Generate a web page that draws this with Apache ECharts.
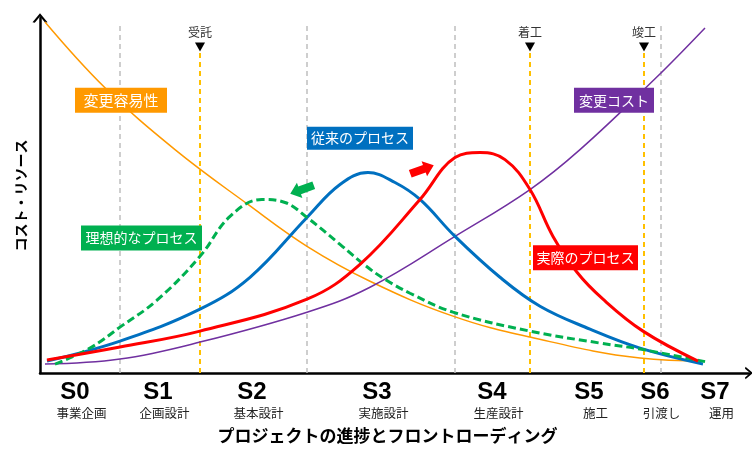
<!DOCTYPE html>
<html><head><meta charset="utf-8">
<script src="https://cdn.jsdelivr.net/npm/echarts@6/dist/echarts.min.js"></script>
<style>html,body{margin:0;padding:0;background:#fff}#c{width:752px;height:449px}</style>
</head><body><div id="c"></div>
<script>
// progress axis units (0..709) and resource units (0..356)
const stageX = [35, 118, 212, 337, 452, 549, 615, 675];
const stageNames = ['S0', 'S1', 'S2', 'S3', 'S4', 'S5', 'S6', 'S7'];
const stageSubs = ['事業企画', '企画設計', '基本設計', '実施設計', '生産設計', '施工', '引渡し', '運用'];
const phaseLinesX = [80, 267, 415, 621];
const milestoneX = [160, 490, 604];
const milestoneNames = ['受託', '着工', '竣工'];

const easeOfChange = [[5,352],[65,286],[135,224],[208,169],[267,127],[330,92],[413,57],[490,36],[600,15],[665,12]];
const costOfChange = [[5,9],[80,14],[160,31],[267,61],[330,86],[415,137],[490,184],[540,224],[614,294],[665,346]];
const conventional = [[7,12],[80,32],[160,64],[210,96],[267,156],[300,189],[328,201],[355,191],[380,174],[415,137],[460,96],[500,67],[550,44],[600,25],[663,9]];
const ideal = [[15,9],[50,25],[80,46],[117,73],[160,117],[190,157],[222,174],[245,171],[267,156],[300,129],[325,108],[345,94],[370,80],[413,61],[490,42],[560,30],[600,24],[667,11]];
const actual = [[7,13],[80,26],[160,42],[267,74],[320,109],[380,174],[415,216],[440,221],[465,214],[490,184],[513,137],[537,101],[563,74],[603,42],[658,12]];

const JP = "'Noto Sans CJK JP', sans-serif";
const chevron = 'path://M0,12 L10,0 L20,12 L17,12.8 L10,4.5 L3,12.8 Z';
const blockArrow = 'path://M0,3 L12,3 L12,0 L20,6 L12,12 L12,9 L0,9 Z';

function box(name, coord, size, color, fs) {
  return {
    name, coord, symbol: 'rect', symbolSize: size,
    itemStyle: { color },
    label: { show: true, position: 'inside', formatter: name, color: '#fff', fontSize: fs, fontFamily: JP }
  };
}

const SM = 0.4;
const chart = echarts.init(document.getElementById('c'), null, { renderer: 'canvas' });
chart.setOption({
  animation: false,
  backgroundColor: '#fff',
  grid: { left: 40, right: 3, top: 18, bottom: 75 },
  xAxis: {
    type: 'value', min: 0, max: 709,
    splitLine: { show: false },
    axisTick: { show: false },
    axisLine: { lineStyle: { color: '#000', width: 2.5 }, symbol: ['none', chevron], symbolSize: [14, 8] },
    axisLabel: {
      customValues: stageX,
      margin: 6,
      formatter: (v) => {
        const i = stageX.indexOf(v);
        return '{s|' + stageNames[i] + '}\n{d|' + stageSubs[i] + '}';
      },
      rich: {
        s: { fontSize: 24, fontWeight: 'bold', fontFamily: "'Liberation Sans', Arial, sans-serif", color: '#000', lineHeight: 26 },
        d: { fontSize: 12.5, fontFamily: JP, color: '#222', lineHeight: 17, padding: [0, 0, 0, 13] }
      }
    },
    name: 'プロジェクトの進捗とフロントローディング',
    nameLocation: 'middle', nameGap: 54,
    nameTextStyle: { fontSize: 17, fontWeight: 'bold', fontFamily: JP, color: '#000', padding: [0, 14, 0, 0] }
  },
  yAxis: {
    type: 'value', min: 0, max: 356,
    splitLine: { show: false },
    axisTick: { show: false },
    axisLabel: { show: false },
    axisLine: { show: true, lineStyle: { color: '#000', width: 2.5 }, symbol: ['none', chevron], symbolSize: [15, 12] },
    name: 'コスト・リソース',
    nameLocation: 'middle', nameGap: 12,
    nameTextStyle: { fontSize: 14, fontWeight: 'bold', fontFamily: JP, color: '#000' }
  },
  series: [
    {
      name: 'guides', type: 'line', data: [], z: 1,
      markLine: {
        silent: true, symbol: 'none', z: 1, label: { show: false },
        data: [
          ...phaseLinesX.map(x => [{ coord: [x, 0], lineStyle: { color: '#BFBFBF', width: 1.5, type: [5, 4] } }, { coord: [x, 350] }]),
          ...milestoneX.map(x => [{ coord: [x, 0], lineStyle: { color: '#FFC000', width: 2, type: [5, 4] } }, { coord: [x, 322] }])
        ]
      },
      markPoint: {
        silent: true, z: 6,
        data: milestoneX.map((x, i) => ({
          coord: [x, 327], symbol: 'triangle', symbolRotate: 180, symbolSize: [10, 9],
          itemStyle: { color: '#000' },
          label: { show: true, position: 'top', distance: 4, formatter: milestoneNames[i], color: '#333', fontSize: 12, fontFamily: JP }
        }))
      }
    },
    { name: '変更容易性', type: 'line', data: easeOfChange, smooth: SM, symbol: 'none', z: 2, lineStyle: { color: '#FF9900', width: 1.5 } },
    { name: '変更コスト', type: 'line', data: costOfChange, smooth: SM, symbol: 'none', z: 2, lineStyle: { color: '#7030A0', width: 1.5 } },
    { name: '従来のプロセス', type: 'line', data: conventional, smooth: SM, symbol: 'none', z: 3, lineStyle: { color: '#0070C0', width: 3 } },
    { name: '理想的なプロセス', type: 'line', data: ideal, smooth: SM, symbol: 'none', z: 3, lineStyle: { color: '#00B050', width: 3, type: [8, 4] } },
    { name: '実際のプロセス', type: 'line', data: actual, smooth: SM, symbol: 'none', z: 4, lineStyle: { color: '#FF0000', width: 3 } },
    {
      name: 'annotations', type: 'line', data: [], z: 10,
      markPoint: {
        silent: true, z: 10,
        data: [
          box('変更容易性', [81, 273.5], [92, 25], '#FF9900', 15),
          box('従来のプロセス', [320, 235.5], [106, 23], '#0070C0', 14),
          box('変更コスト', [574, 273.5], [80, 25], '#7030A0', 14),
          box('理想的なプロセス', [101.5, 135.5], [121, 25], '#00B050', 14),
          box('実際のプロセス', [545.5, 115.5], [105, 25], '#FF0000', 14),
          { coord: [262, 184], symbol: blockArrow, symbolSize: [25, 16], symbolRotate: 200, itemStyle: { color: '#00B050' }, label: { show: false } },
          { coord: [382, 204], symbol: blockArrow, symbolSize: [25, 16], symbolRotate: 20, itemStyle: { color: '#FF0000' }, label: { show: false } }
        ]
      }
    }
  ]
});
</script>
</body></html>
